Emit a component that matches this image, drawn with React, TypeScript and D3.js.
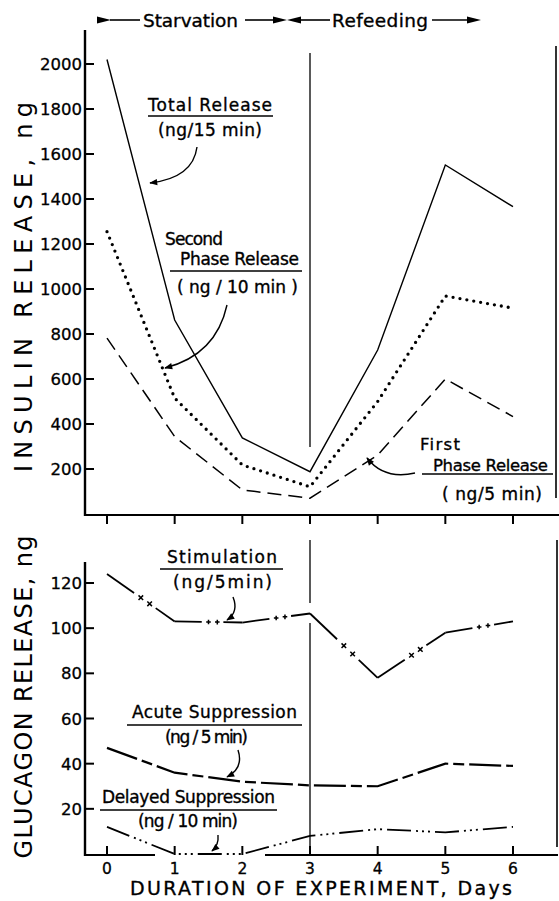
import React from "react";
import * as d3 from "d3";

// days of the experiment
const days = [0, 1, 2, 3, 4, 5, 6];

// insulin release, ng (top panel)
const totalRelease = [2020, 862, 338, 188, 729, 1551, 1366];
const secondPhase = [1255, 515, 218, 121, 500, 969, 915];
const firstPhase = [782, 344, 107, 70, 262, 600, 433];
const insulinTicks = [200, 400, 600, 800, 1000, 1200, 1400, 1600, 1800, 2000];

// glucagon release, ng (bottom panel)
const stimulation = [124, 103, 102.5, 106.5, 78, 98, 103];
const stimMarks = ["x", "+", "+", "x", "x", "+"];
const acuteSuppression = [47, 36, 32, 30.4, 30, 40, 39];
const delayedSuppression = [12, 0, 0, 8, 11, 9.6, 12];
const glucagonTicks = [20, 40, 60, 80, 100, 120];

const W = 559;
const H = 901;
const FONT = "DejaVu Sans";

const x = d3.scaleLinear().domain([0, 6]).range([107, 513]);
const yTop = d3.scaleLinear().domain([0, 2000]).range([514, 64]);
const yBot = d3.scaleLinear().domain([0, 120]).range([854, 583]);

const Txt = ({ x, y, w, size = 17, children, anchor = "start" }: any) => (
  <text
    x={x}
    y={y}
    fontSize={size}
    textLength={w}
    lengthAdjust="spacing"
    textAnchor={anchor}
    stroke="#000"
    strokeWidth={0.35}
  >
    {children}
  </text>
);

function StimLine({ values }: { values: number[] }) {
  const pts = values.map((v, i) => [x(days[i]), yBot(v)]);
  const parts: any[] = [];
  for (let i = 0; i < pts.length - 1; i++) {
    const [ax, ay] = pts[i];
    const [bx, by] = pts[i + 1];
    const at = (t: number) => [ax + (bx - ax) * t, ay + (by - ay) * t];
    const p1 = at(0.4);
    const p2 = at(0.72);
    parts.push(<line key={"a" + i} x1={ax} y1={ay} x2={p1[0]} y2={p1[1]} />);
    parts.push(<line key={"b" + i} x1={p2[0]} y1={p2[1]} x2={bx} y2={by} />);
    [0.5, 0.63].forEach((t, k) => {
      const [cx, cy] = at(t);
      const s = 2.3;
      const d =
        stimMarks[i] === "+"
          ? `M${cx - s},${cy}L${cx + s},${cy}M${cx},${cy - s}L${cx},${cy + s}`
          : `M${cx - s},${cy - s}L${cx + s},${cy + s}M${cx - s},${cy + s}L${cx + s},${cy - s}`;
      parts.push(<path key={"m" + i + k} d={d} strokeWidth={1.5} />);
    });
  }
  return (
    <g stroke="#000" strokeWidth={1.8} fill="none">
      {parts}
    </g>
  );
}

export default function App() {
  const lineTop = d3
    .line<number>()
    .x((_, i) => x(days[i]))
    .y((d) => yTop(d));
  const lineBot = d3
    .line<number>()
    .x((_, i) => x(days[i]))
    .y((d) => yBot(d));

  return (
    <svg
      width={W}
      height={H}
      style={{ position: "absolute", left: 0, top: 0, background: "#fff" }}
      fontFamily={FONT}
    >
      <defs>
        <marker
          id="ah"
          viewBox="0 0 10 10"
          refX="9"
          refY="5"
          markerWidth="9"
          markerHeight="8"
          markerUnits="userSpaceOnUse"
          orient="auto"
        >
          <path d="M0,1 L10,5 L0,9 z" fill="#000" />
        </marker>
      </defs>
      <rect width={W} height={H} fill="#fff" />

      {/* header */}
      <g stroke="#000" strokeWidth={1.6} fill="#000">
        <polygon points="97,16.5 97,23.5 111,20" stroke="none" />
        <line x1={110} y1={20} x2={140} y2={20} />
        <line x1={245} y1={20} x2={275} y2={20} />
        <polygon points="273,16.5 273,23.5 287,20" stroke="none" />
        <polygon points="287,20 301,16.5 301,23.5" stroke="none" />
        <line x1={299} y1={20} x2={330} y2={20} />
        <line x1={432} y1={20} x2={468} y2={20} />
        <polygon points="467,16.5 467,23.5 481,20" stroke="none" />
      </g>
      <Txt x={143} y={27} w={95} size={18.5}>Starvation</Txt>
      <Txt x={332} y={27} w={96} size={18.5}>Refeeding</Txt>

      {/* ---------- top panel ---------- */}
      <g stroke="#000" fill="none">
        <line x1={85} y1={30} x2={85} y2={516} strokeWidth={2.4} />
        <line x1={84} y1={515} x2={559} y2={515} strokeWidth={2} />
        {insulinTicks.map((t) => (
          <line key={t} x1={85} x2={94} y1={yTop(t)} y2={yTop(t)} strokeWidth={2} />
        ))}
        {days.map((d) => (
          <line key={d} x1={x(d)} x2={x(d)} y1={515} y2={524} strokeWidth={2} />
        ))}
        <line x1={x(3)} x2={x(3)} y1={53} y2={447} strokeWidth={1.3} />
        <line x1={556} x2={556} y1={46} y2={498} strokeWidth={1.6} />

        <path d={lineTop(totalRelease)!} strokeWidth={1.4} />
        <path
          d={lineTop(secondPhase)!}
          strokeWidth={3.3}
          strokeDasharray="0 7"
          strokeLinecap="round"
        />
        <path d={lineTop(firstPhase)!} strokeWidth={1.5} strokeDasharray="14 7" />
      </g>
      <g fontSize={16.5} textAnchor="end" stroke="#000" strokeWidth={0.3}>
        {insulinTicks.map((t) => (
          <text key={t} x={82} y={yTop(t) + 6}>
            {t}
          </text>
        ))}
      </g>
      <text
        transform="translate(32,287) rotate(-90)"
        textAnchor="middle"
        fontSize={24}
        textLength={370}
        lengthAdjust="spacing"
      >
        INSULIN RELEASE, ng
      </text>

      {/* top annotations */}
      <g stroke="#000" strokeWidth={1.4} fill="none">
        <line x1={148} x2={273} y1={116} y2={116} />
        <line x1={170} x2={302} y1={271} y2={271} />
        <line x1={422} x2={553} y1={474} y2={474} />
        <path d="M197,147 Q193,178 150,183" markerEnd="url(#ah)" />
        <path d="M227,305 Q216,355 165,368" markerEnd="url(#ah)" />
        <path d="M415,473 Q384,480 367,458" markerEnd="url(#ah)" />
      </g>
      <Txt x={148} y={111} w={124}>Total Release</Txt>
      <Txt x={158} y={136} w={104}>(ng/15 min)</Txt>
      <Txt x={165} y={245} w={58}>Second</Txt>
      <Txt x={180} y={265} w={119}>Phase Release</Txt>
      <Txt x={177} y={293} w={121}>( ng / 10 min )</Txt>
      <Txt x={420} y={450} w={40} size={16.5}>First</Txt>
      <Txt x={433} y={471} w={115} size={16.5}>Phase Release</Txt>
      <Txt x={442} y={500} w={100}>( ng/5 min)</Txt>

      {/* ---------- bottom panel ---------- */}
      <g stroke="#000" fill="none">
        <line x1={85} y1={562} x2={85} y2={856} strokeWidth={2.4} />
        <line x1={84} y1={855} x2={155} y2={855} strokeWidth={2} />
        <line x1={265} y1={855} x2={558} y2={855} strokeWidth={2} />
        {glucagonTicks.map((t) => (
          <line key={t} x1={85} x2={94} y1={yBot(t)} y2={yBot(t)} strokeWidth={2} />
        ))}
        {days.map((d) => (
          <line key={d} x1={x(d)} x2={x(d)} y1={855} y2={846} strokeWidth={2} />
        ))}
        <line x1={x(3)} x2={x(3)} y1={540} y2={603} strokeWidth={1.3} />
        <line x1={x(3)} x2={x(3)} y1={623} y2={855} strokeWidth={1.3} />
        <line x1={557} x2={557} y1={540} y2={847} strokeWidth={1.6} />

        <path
          d={lineBot(acuteSuppression)!}
          strokeWidth={2.2}
          strokeDasharray="32 5 11 5"
        />
        <path
          d={lineBot(delayedSuppression)!}
          strokeWidth={1.8}
          strokeDasharray="24 5 2 4 2 4 2 5"
        />
      </g>
      <StimLine values={stimulation} />
      <g fontSize={16.5} textAnchor="end" stroke="#000" strokeWidth={0.3}>
        {glucagonTicks.map((t) => (
          <text key={t} x={82} y={yBot(t) + 6}>
            {t}
          </text>
        ))}
      </g>
      <g fontSize={15.5} textAnchor="middle" stroke="#000" strokeWidth={0.3}>
        {days.map((d) => (
          <text key={d} x={x(d)} y={874}>
            {d}
          </text>
        ))}
      </g>
      <text
        transform="translate(32,697) rotate(-90)"
        textAnchor="middle"
        fontSize={24}
        textLength={323}
        lengthAdjust="spacing"
      >
        GLUCAGON RELEASE, ng
      </text>
      <Txt x={130} y={895} w={382} size={19}>DURATION OF EXPERIMENT, Days</Txt>

      {/* bottom annotations */}
      <g stroke="#000" strokeWidth={1.4} fill="none">
        <line x1={160} x2={283} y1={569} y2={569} />
        <line x1={127} x2={302} y1={725} y2={725} />
        <line x1={100} x2={277} y1={810} y2={810} />
        <path d="M233,597 Q239,612 227,620" markerEnd="url(#ah)" />
        <path d="M238,750 Q244,768 227,777" markerEnd="url(#ah)" />
        <path d="M218,835 Q219,845 212,851" markerEnd="url(#ah)" />
      </g>
      <Txt x={167} y={563} w={110}>Stimulation</Txt>
      <Txt x={173} y={588} w={99}>(ng/5min)</Txt>
      <Txt x={132} y={718} w={165}>Acute Suppression</Txt>
      <Txt x={165} y={743} w={83}>(ng / 5 min)</Txt>
      <Txt x={102} y={803} w={173}>Delayed Suppression</Txt>
      <Txt x={138} y={827} w={100}>(ng / 10 min)</Txt>
    </svg>
  );
}
